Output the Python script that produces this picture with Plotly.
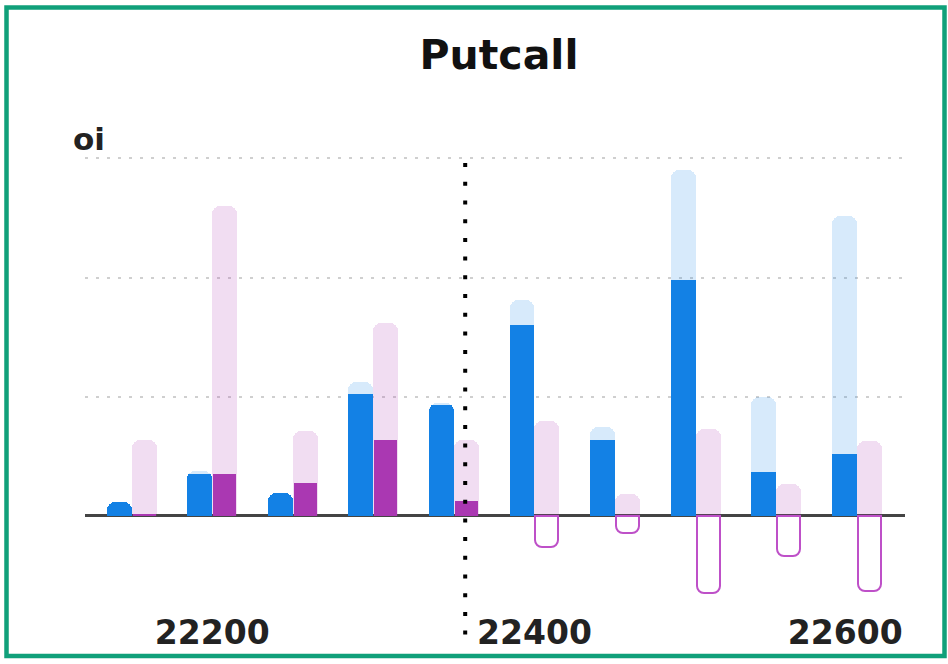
import plotly.graph_objects as go

# ---- data ----
strikes = [22150, 22200, 22250, 22300, 22350, 22400, 22450, 22500, 22550, 22600]
call_oi = [1150, 3800, 1950, 11200, 9500, 18100, 7500, 29000, 10000, 25200]
call_chg = [1150, 3500, 1900, 10200, 9300, 16000, 6400, 19800, 3700, 5200]
put_oi = [6400, 26000, 7100, 16200, 6400, 8000, 1800, 7300, 2700, 6300]
put_chg = [200, 3500, 2800, 6400, 1250, -2600, -1400, -6500, -3400, -6300]
spot = 22357
tick_vals = [22200, 22400, 22600]
tick_text = ["22200", "22400", "22600\u00a0\u00a0"]
grid_vals = [10000, 20000, 30000]

# ---- layout geometry (pixels) ----
W, H = 948, 664
L, R, T, B = 85, 905, 148, 605
pw, ph = R - L, B - T

def px_x(px):
    return (px - L) / pw

def px_y(py):
    return (B - py) / ph

bw = 15.5  # bar width in strike units

BLUE = "rgb(19,129,229)"
BLUE_L = "rgba(19,129,229,0.17)"
PURP = "rgb(170,56,178)"
PINK_L = "rgba(170,56,178,0.17)"
OUTL = "rgb(190,80,200)"

fig = go.Figure()
n = len(strikes)
fig.add_bar(x=strikes, y=call_oi, width=[bw] * n, offset=-bw,
            marker=dict(color=BLUE_L, line=dict(width=0), cornerradius=8))
fig.add_bar(x=strikes, y=put_oi, width=[bw] * n, offset=0,
            marker=dict(color=PINK_L, line=dict(width=0), cornerradius=8))
fig.add_bar(x=strikes, y=call_chg, width=[bw] * n, offset=-bw,
            marker=dict(color=BLUE, line=dict(width=0), cornerradius=8))
fig.add_bar(x=strikes, y=put_chg, width=[bw - 1.2] * n, offset=0.6,
            marker=dict(color=[PURP if v >= 0 else "rgba(255,255,255,0)" for v in put_chg],
                        line=dict(color=[PURP if v >= 0 else OUTL for v in put_chg],
                                  width=[0 if v >= 0 else 2 for v in put_chg]),
                        cornerradius=7))

# spot line
fig.add_shape(type="line", xref="x", yref="paper", x0=spot, x1=spot,
              y0=px_y(640), y1=px_y(150),
              line=dict(color="black", width=4, dash="4px,14.7px"))

# border
fig.add_shape(type="rect", xref="paper", yref="paper",
              x0=px_x(6.5), x1=px_x(944.5), y0=px_y(661.5), y1=px_y(6),
              line=dict(color="#10a07a", width=4.5), layer="above")

fig.add_annotation(text="<b>oi</b>", xref="paper", yref="paper",
                   x=px_x(71), y=px_y(139), xanchor="left", yanchor="middle",
                   showarrow=False, font=dict(size=31, color="#222",
                                              family="DejaVu Sans"))

fig.update_layout(
    width=W, height=H,
    margin=dict(l=L, r=W - R, t=T, b=H - B),
    paper_bgcolor="white", plot_bgcolor="white",
    barmode="overlay", showlegend=False, bargap=0,
    title=dict(text="<b>Putcall</b>", xref="paper", x=px_x(499),
               xanchor="center", yref="container", y=1 - 55 / H,
               yanchor="middle",
               font=dict(size=41, color="#111", family="DejaVu Sans")),
    font=dict(family="DejaVu Sans"),
)
fig.update_xaxes(range=[22121, 22630], tickvals=tick_vals,
                 ticktext=["<b>%s</b>" % t for t in tick_text],
                 tickfont=dict(size=33, color="#222"),
                 showgrid=False, zeroline=False, showline=False,
                 ticks="outside", ticklen=3, tickcolor="rgba(0,0,0,0)")
fig.update_yaxes(range=[-7054, 30871], tickvals=grid_vals, showticklabels=False,
                 showgrid=True, gridcolor="#cfcfcf", gridwidth=2,
                 griddash="2.5px,8.5px",
                 zeroline=True, zerolinecolor="#444", zerolinewidth=3,
                 showline=False)

page_js = (
    "var de=document.documentElement, bd=document.body;"
    "de.style.margin='0'; de.style.padding='0'; de.style.overflow='hidden';"
    "de.style.height='664px';"
    "bd.style.margin='0'; bd.style.padding='0'; bd.style.overflow='hidden';"
    "bd.style.height='664px';"
    "var g=document.getElementById('{plot_id}');"
    "if(g&&g.parentElement){g.parentElement.style.height='664px';"
    "g.parentElement.style.overflow='hidden';g.style.display='block';}"
)
fig.write_html("out.html", config={"displayModeBar": False},
               post_script=page_js)
